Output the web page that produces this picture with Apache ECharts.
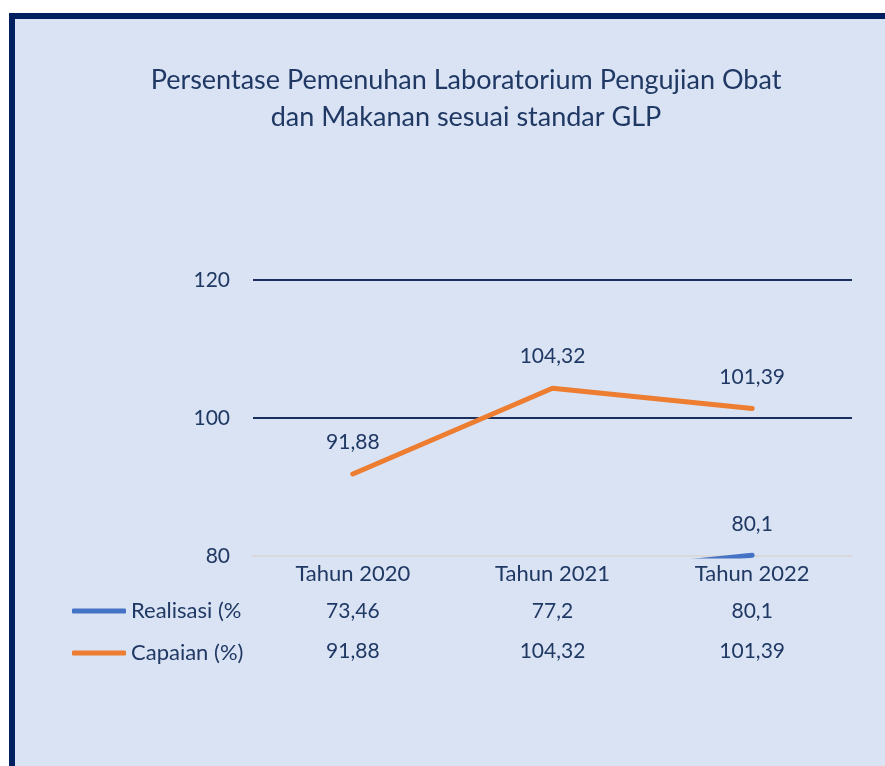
<!DOCTYPE html>
<html>
<head>
<meta charset="utf-8">
<script src="https://cdn.jsdelivr.net/npm/echarts@6/dist/echarts.min.js"></script>
<style>
  html, body { margin: 0; padding: 0; background: #ffffff; width: 885px; height: 766px; overflow: hidden; }
  #frame { position: absolute; left: 9px; top: 13px; right: 0; bottom: 0;
           border-left: 6px solid #002060; border-top: 6px solid #002060; background: #dae3f3; }
  #chart { position: absolute; left: 0; top: 0; width: 885px; height: 766px; }
</style>
</head>
<body>
<div id="frame"></div>
<div id="chart"></div>
<script>
// Chart data
const categories = ['Tahun 2020', 'Tahun 2021', 'Tahun 2022'];
const seriesNames = ['Realisasi (%', 'Capaian (%)'];
const realisasi = [73.46, 77.2, 80.1];
const capaian = [91.88, 104.32, 101.39];
const yTicks = [80, 100, 120];

const Y_MIN = yTicks[0];
const Y_MAX = yTicks[yTicks.length - 1];
const Y_STEP = yTicks[1] - yTicks[0];

const NAVY = '#1f3864';
const FONT = 'Lato';
const FS = 21;
const fmt = v => String(v).replace('.', ',');

const chart = echarts.init(document.getElementById('chart'), null, { renderer: 'canvas' });

function lineSeries(name, values, color) {
  return {
    name: name,
    type: 'line',
    xAxisIndex: 0,
    clip: true,
    symbol: 'circle',
    symbolSize: 0,
    lineStyle: { width: 5, color: color, cap: 'round' },
    itemStyle: { color: color },
    label: {
      show: true, position: 'top', distance: 21,
      color: NAVY, fontSize: FS, fontFamily: FONT,
      formatter: p => fmt(p.value)
    },
    data: values.map(v => ({ value: v, label: { show: v >= Y_MIN } }))
  };
}

// Data-table rows drawn as extra category axes beneath the plot
function tableAxis(values, offset) {
  return {
    type: 'category', gridIndex: 0, position: 'bottom', offset: offset,
    data: values.map(fmt),
    axisLine: { show: false }, axisTick: { show: false },
    axisLabel: { color: NAVY, fontSize: FS, fontFamily: FONT, margin: 8 }
  };
}

chart.setOption({
  backgroundColor: 'transparent',
  animation: false,
  textStyle: { fontFamily: FONT },
  title: {
    text: 'Persentase Pemenuhan Laboratorium Pengujian Obat\ndan Makanan sesuai standar GLP',
    left: 466, top: 62, padding: 0, textAlign: 'center',
    textStyle: { color: NAVY, fontSize: 27, fontWeight: 'normal', fontFamily: FONT, lineHeight: 37 }
  },
  legend: {
    orient: 'vertical', left: 72, top: 600, padding: 0,
    icon: 'roundRect', itemWidth: 54, itemHeight: 5, itemGap: 20,
    selectedMode: false,
    textStyle: { color: NAVY, fontSize: 22, fontFamily: FONT, lineHeight: 20 },
    data: seriesNames
  },
  grid: { left: 253, right: 33, top: 280, bottom: 210, containLabel: false },
  xAxis: [
    {
      type: 'category', data: categories, boundaryGap: true,
      axisLine: { show: true, lineStyle: { color: '#d9d9d9', width: 2 } },
      axisTick: { show: false },
      axisLabel: { color: NAVY, fontSize: 22, fontFamily: FONT, margin: 7 }
    },
    tableAxis(realisasi, 37),
    tableAxis(capaian, 77)
  ],
  yAxis: {
    type: 'value', min: Y_MIN, max: Y_MAX, interval: Y_STEP,
    axisLine: { show: false }, axisTick: { show: false },
    axisLabel: { color: NAVY, fontSize: FS, fontFamily: FONT, margin: 23 },
    splitLine: { show: true, lineStyle: { color: ['#d9d9d9', '#1a2f5e', '#1a2f5e'], width: 2 } }
  },
  series: [
    lineSeries(seriesNames[0], realisasi, '#4472c4'),
    lineSeries(seriesNames[1], capaian, '#ed7d31')
  ]
});
</script>
</body>
</html>
